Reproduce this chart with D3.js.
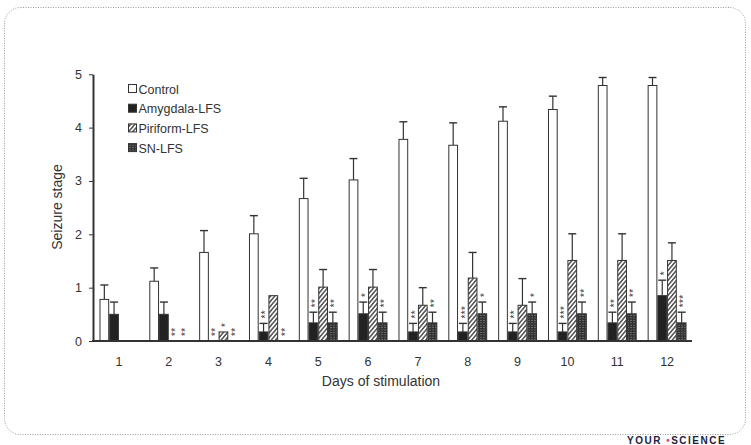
<!DOCTYPE html>
<html>
<head>
<meta charset="utf-8">
<script src="https://cdn.jsdelivr.net/npm/d3@7"></script>
<style>
  body { margin: 0; background: #fff; }
  svg { display: block; font-family: "Liberation Sans", Arial, sans-serif; }
  .axis path, .axis line { stroke: #333; }
  .axis text { fill: #333; font-size: 12.5px; }
</style>
</head>
<body>
<div id="chart"></div>
<script>
// data
const days = ["1","2","3","4","5","6","7","8","9","10","11","12"];
const groups = ["Control", "Amygdala-LFS", "Piriform-LFS", "SN-LFS"];

const control    = [0.78, 1.12, 1.66, 2.01, 2.67, 3.02, 3.78, 3.67, 4.12, 4.34, 4.79, 4.79];
const controlErr = [1.05, 1.37, 2.07, 2.35, 3.05, 3.42, 4.11, 4.09, 4.39, 4.59, 4.94, 4.94];
const amygdala    = [0.5, 0.5, 0, 0.17, 0.34, 0.51, 0.17, 0.17, 0.17, 0.17, 0.34, 0.85];
const amygdalaErr = [0.73, 0.73, 0, 0.33, 0.54, 0.73, 0.33, 0.33, 0.33, 0.33, 0.54, 1.14];
const piriform    = [0, 0, 0.17, 0.85, 1.01, 1.01, 0.67, 1.18, 0.67, 1.51, 1.51, 1.51];
const piriformErr = [0, 0, 0.17, 0.85, 1.34, 1.34, 1.0, 1.66, 1.17, 2.01, 2.01, 1.84];
const sn    = [0, 0, 0, 0, 0.34, 0.34, 0.34, 0.51, 0.51, 0.51, 0.51, 0.34];
const snErr = [0, 0, 0, 0, 0.54, 0.54, 0.54, 0.73, 0.73, 0.73, 0.73, 0.54];

// significance marks ("" = none)
const amygdalaSig = ["", "", "**", "**", "**", "*", "**", "***", "**", "***", "**", "*"];
const piriformSig = ["", "**", "*", "", "", "", "", "", "", "", "", ""];
const snSig       = ["", "**", "**", "**", "**", "**", "**", "*", "*", "**", "**", "***"];

const yTicks = [0, 1, 2, 3, 4, 5];

const width = 751;
const height = 445;

const svg = d3.select("#chart")
  .append("svg")
  .attr("width", width)
  .attr("height", height);

// patterns
const defs = svg.append("defs");
const hatch = defs.append("pattern")
  .attr("id", "hatch")
  .attr("patternUnits", "userSpaceOnUse")
  .attr("width", 3.2).attr("height", 3.2)
  .attr("patternTransform", "rotate(40)");
hatch.append("rect").attr("width", 3.2).attr("height", 3.2).attr("fill", "#fff");
hatch.append("line").attr("x1", 0.8).attr("x2", 0.8).attr("y1", 0).attr("y2", 3.2)
  .attr("stroke", "#333").attr("stroke-width", 1.3);

const dense = defs.append("pattern")
  .attr("id", "dense")
  .attr("patternUnits", "userSpaceOnUse")
  .attr("width", 3).attr("height", 2.4);
dense.append("rect").attr("width", 3).attr("height", 2.4).attr("fill", "#333");
dense.append("line").attr("x1", 0).attr("x2", 2).attr("y1", 1.2).attr("y2", 1.2)
  .attr("stroke", "#8a8a8a").attr("stroke-width", 0.6);

// frame
svg.append("rect")
  .attr("x", 4.5).attr("y", 7.5)
  .attr("width", 741).attr("height", 427)
  .attr("rx", 16)
  .attr("fill", "none")
  .attr("stroke", "#999")
  .attr("stroke-dasharray", "1,1.5");

// scales
const xScale = d3.scaleBand()
  .domain(days)
  .range([94, 692])
  .paddingInner(0.22)
  .paddingOuter(0.11);

const xInner = d3.scaleBand()
  .domain(groups)
  .range([0, xScale.bandwidth()]);

const yScale = d3.scaleLinear()
  .domain([0, 5])
  .range([341, 74.3]);

const fills = ["#fff", "#222", "url(#hatch)", "url(#dense)"];

const series = groups.map(function(g, i) {
  const vals = [control, amygdala, piriform, sn][i];
  const errs = [controlErr, amygdalaErr, piriformErr, snErr][i];
  const sigs = [null, amygdalaSig, piriformSig, snSig][i];
  return days.map(function(d, j) {
    return { day: d, group: g, gi: i, value: vals[j], err: errs[j], sig: sigs ? sigs[j] : "" };
  });
});

// bars
series.forEach(function(s) {
  const gEl = svg.append("g");
  s.forEach(function(d) {
    if (d.value <= 0) return;
    const x = xScale(d.day) + xInner(d.group);
    const w = xInner.bandwidth();
    const cx = x + w / 2;
    if (d.err > d.value) {
      gEl.append("line")
        .attr("x1", cx).attr("x2", cx)
        .attr("y1", yScale(d.value)).attr("y2", yScale(d.err))
        .attr("stroke", "#333").attr("stroke-width", 1.2);
      gEl.append("line")
        .attr("x1", cx - 4).attr("x2", cx + 4)
        .attr("y1", yScale(d.err)).attr("y2", yScale(d.err))
        .attr("stroke", "#333").attr("stroke-width", 1.4);
    }
    gEl.append("rect")
      .attr("x", x + 0.5)
      .attr("y", yScale(d.value))
      .attr("width", w - 1)
      .attr("height", yScale(0) - yScale(d.value))
      .attr("fill", fills[d.gi])
      .attr("stroke", "#333")
      .attr("stroke-width", 1);
  });
});

// significance stars, written upward (rotated text)
series.forEach(function(s) {
  s.forEach(function(d) {
    if (!d.sig) return;
    const x = xScale(d.day) + xInner(d.group) + xInner.bandwidth() / 2;
    const top = yScale(Math.max(d.value, d.err));
    svg.append("text")
      .attr("transform", `translate(${x},${top - 5}) rotate(-90)`)
      .attr("dy", 5.6)
      .attr("font-size", 10)
      .attr("letter-spacing", 0.3)
      .attr("fill", "#333")
      .text(d.sig);
  });
});

// axes
const yAxis = svg.append("g")
  .attr("class", "axis")
  .attr("transform", "translate(93,0)")
  .call(d3.axisLeft(yScale).tickValues(yTicks).tickFormat(d3.format("d"))
    .tickSize(4).tickSizeOuter(0).tickPadding(7));
yAxis.select(".domain").attr("stroke-width", 2);

const xAxis = svg.append("g")
  .attr("class", "axis")
  .attr("transform", "translate(0,341)")
  .call(d3.axisBottom(xScale).tickSize(0).tickPadding(16));
xAxis.select(".domain").attr("d", "M92,0H692").attr("stroke-width", 2);

svg.append("text")
  .attr("x", 381).attr("y", 386)
  .attr("text-anchor", "middle")
  .attr("font-size", 14)
  .attr("fill", "#333")
  .text("Days of stimulation");

svg.append("text")
  .attr("transform", "translate(62,207) rotate(-90)")
  .attr("text-anchor", "middle")
  .attr("font-size", 14)
  .attr("fill", "#333")
  .text("Seizure stage");

// legend
groups.forEach(function(g, i) {
  const ly = 89 + i * 19.7;
  svg.append("rect")
    .attr("x", 128.5).attr("y", ly - 4.5)
    .attr("width", 8).attr("height", 8)
    .attr("fill", fills[i])
    .attr("stroke", "#333");
  svg.append("text")
    .attr("x", 138.5).attr("y", ly + 4.5)
    .attr("font-size", 12.5)
    .attr("fill", "#333")
    .text(g);
});

// logo at the bottom edge
const logo = svg.append("text")
  .attr("x", 627).attr("y", 444)
  .attr("font-size", 10)
  .attr("font-weight", "bold")
  .attr("letter-spacing", 1.5)
  .attr("fill", "#1c2340");
logo.append("tspan").text("YOUR ");
logo.append("tspan").attr("fill", "#e8467c").text("•");
logo.append("tspan").text("SCIENCE");
</script>
</body>
</html>
